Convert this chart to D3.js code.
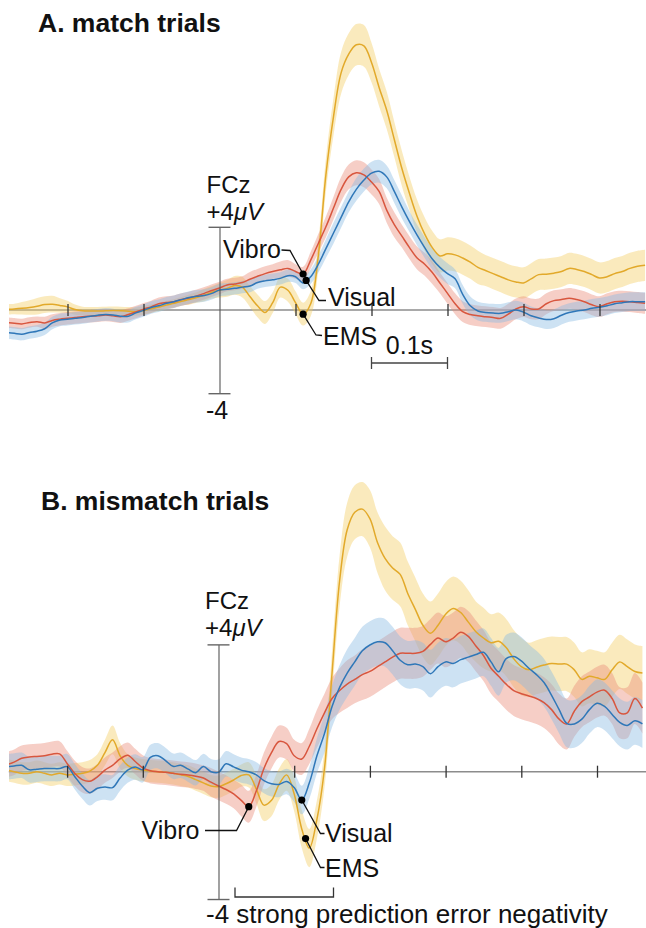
<!DOCTYPE html>
<html><head><meta charset="utf-8">
<script src="https://cdn.jsdelivr.net/npm/d3@7"></script>
<style>
html,body{margin:0;padding:0;background:#fff;}
svg{display:block;font-family:"Liberation Sans",Arial,Helvetica,sans-serif;}
</style></head><body>
<svg id="chart" width="646" height="928"></svg>
<script>
// ---- sampling grid (ms relative to event) ----
const times = [-280,-270,-260,-250,-240,-230,-220,-210,-200,-190,
 -180,-170,-160,-150,-140,-130,-120,-110,-100,-90,
 -80,-70,-60,-50,-40,-30,-20,-10,0,10,
 20,30,40,50,60,70,80,90,100,110,
 120,130,140,150,160,170,180,190,200,210,
 220,230,240,250,260,270,280,290,300,310,
 320,330,340,350,360,370,380,390,400,410,
 420,430,440,450,460,470,480,490,500,510,
 520,530,540,550,560];
const tickTimes = [-200,-100,100,200,300,400,500];
const seriesNames = ["EMS","Vibro","Visual"];

// ---- A. match trials (µV) ----
const matchVibro = [-0.6,-0.64,-0.67,-0.6,-0.56,-0.62,-0.5,-0.44,-0.4,-0.36,
 -0.32,-0.3,-0.28,-0.24,-0.28,-0.32,-0.22,-0.1,0.04,0.15,
 0.3,0.36,0.4,0.5,0.58,0.68,0.8,0.94,1.06,1.2,
 1.25,1.32,1.48,1.62,1.75,1.85,1.93,2.0,1.85,1.73,
 2.4,3.2,4.0,4.9,5.8,6.4,6.6,6.5,6.15,5.7,
 4.8,4.1,3.55,3.0,2.5,2.2,1.8,1.3,0.8,0.3,
 -0.08,-0.22,-0.28,-0.32,-0.36,-0.4,-0.2,0.05,0.16,0.05,
 0.05,0.3,0.45,0.5,0.56,0.5,0.4,0.25,0.16,0.3,
 0.4,0.42,0.4,0.36,0.32];
const matchVibroSE = [.25,.25,.25,.25,.25,.3,.3,.3,.3,.3,
 .3,.3,.3,.3,.3,.3,.3,.3,.3,.3,
 .3,.3,.3,.3,.3,.3,.3,.3,.3,.3,
 .3,.3,.35,.35,.35,.35,.4,.4,.35,.35,
 .4,.45,.5,.55,.6,.6,.6,.6,.6,.6,
 .6,.6,.55,.55,.55,.55,.55,.5,.5,.5,
 .5,.5,.5,.5,.5,.5,.5,.5,.5,.5,
 .5,.5,.5,.5,.5,.5,.5,.5,.5,.5,
 .5,.5,.5,.5,.5];
const matchVisual = [-1.08,-1.12,-1.16,-1.08,-1.02,-0.9,-0.62,-0.48,-0.45,-0.4,
 -0.36,-0.3,-0.25,-0.22,-0.24,-0.3,-0.3,-0.14,-0.02,0.12,
 0.2,0.32,0.4,0.5,0.6,0.66,0.7,0.8,0.96,1.0,
 1.04,1.1,1.15,1.32,1.4,1.45,1.52,1.65,1.6,1.3,
 1.6,2.2,2.95,3.7,4.45,5.2,5.8,6.25,6.58,6.67,
 6.4,5.7,4.95,4.25,3.6,3.0,2.45,2.05,1.75,1.5,
 0.75,0.2,-0.05,-0.12,-0.15,-0.16,-0.08,0.0,-0.1,-0.28,
 -0.38,-0.46,-0.42,-0.25,-0.12,-0.05,0.0,0.08,0.13,0.2,
 0.3,0.35,0.4,0.4,0.4];
const matchVisualSE = [.3,.3,.3,.3,.3,.3,.3,.3,.3,.3,
 .3,.3,.3,.3,.3,.3,.3,.3,.3,.3,
 .3,.3,.3,.3,.3,.3,.3,.3,.3,.3,
 .3,.3,.3,.3,.3,.3,.3,.3,.3,.3,
 .35,.4,.45,.5,.5,.5,.55,.55,.55,.55,
 .55,.55,.55,.5,.5,.5,.5,.5,.5,.45,
 .45,.45,.45,.45,.45,.45,.45,.45,.45,.45,
 .45,.45,.45,.45,.45,.45,.45,.45,.45,.45,
 .45,.45,.45,.45,.45];
const matchEMS = [0.03,0.05,0.08,0.12,0.18,0.26,0.28,0.22,0.15,0.02,
 -0.04,-0.05,-0.05,-0.04,-0.03,-0.04,-0.06,-0.08,-0.02,0.06,
 0.14,0.24,0.32,0.42,0.5,0.6,0.72,0.85,0.95,1.04,
 1.18,1.1,0.65,0.2,-0.12,0.35,1.1,0.95,0.35,-0.2,
 0.3,2.6,6.5,9.3,11.4,12.3,12.75,12.7,11.9,10.7,
 9.6,8.2,6.8,5.6,4.5,3.65,3.0,2.6,2.7,2.65,
 2.5,2.3,2.05,1.9,1.75,1.6,1.45,1.35,1.3,1.5,
 1.7,1.72,1.77,1.85,2.0,1.95,1.85,1.7,1.54,1.6,
 1.75,1.85,2.0,2.1,2.15];
const matchEMSSE = [.25,.25,.3,.35,.4,.4,.4,.35,.3,.25,
 .2,.2,.2,.2,.2,.2,.2,.2,.2,.2,
 .2,.2,.2,.2,.25,.25,.3,.3,.35,.4,
 .45,.5,.5,.55,.55,.5,.5,.55,.55,.55,
 .6,.7,.8,.9,1.0,1.0,1.0,1.0,.95,.9,
 .9,.85,.85,.8,.8,.8,.8,.8,.8,.8,
 .8,.8,.8,.75,.75,.75,.75,.75,.75,.75,
 .75,.75,.75,.75,.75,.75,.75,.75,.75,.75,
 .75,.75,.75,.75,.75];

// ---- B. mismatch trials (µV) ----
const mismatchVibro = [0.22,0.3,0.42,0.46,0.48,0.5,0.55,0.56,0.26,-0.05,
 -0.25,-0.3,-0.16,0.05,0.2,0.4,0.52,0.32,0.12,0.03,
 0.0,-0.02,-0.05,-0.08,-0.1,-0.14,-0.2,-0.33,-0.45,-0.56,
 -0.7,-0.9,-1.1,-0.6,0.1,0.6,0.95,0.88,0.5,0.4,
 0.8,1.35,1.85,2.3,2.55,2.75,2.9,3.05,3.15,3.3,
 3.45,3.6,3.72,3.72,3.72,3.78,4.0,4.2,4.08,4.2,
 4.38,4.25,3.95,3.65,3.25,3.0,2.75,2.55,2.45,2.38,
 2.3,2.17,1.95,1.65,1.5,1.9,2.2,2.35,2.5,2.56,
 2.3,1.85,1.85,2.3,2.0];
const mismatchVibroSE = [.4,.4,.4,.4,.4,.4,.4,.4,.4,.4,
 .4,.4,.4,.4,.4,.4,.4,.4,.4,.4,
 .4,.4,.4,.4,.4,.4,.4,.45,.45,.45,
 .45,.5,.5,.5,.5,.5,.5,.5,.5,.5,
 .55,.6,.6,.65,.7,.75,.75,.8,.8,.8,
 .8,.8,.8,.8,.8,.8,.8,.8,.8,.8,
 .8,.8,.8,.8,.8,.8,.8,.8,.8,.8,
 .8,.8,.8,.8,.8,.8,.8,.8,.8,.8,
 .8,.8,.8,.8,.8];
const mismatchVisual = [0.15,0.18,0.2,0.06,0.08,0.1,0.1,0.1,0.16,-0.15,
 -0.45,-0.66,-0.52,-0.48,-0.5,-0.2,0.05,0.15,0.06,0.45,
 0.5,0.35,0.17,0.2,0.08,-0.03,0.16,0.0,-0.02,0.25,
 0.15,0.05,0.0,-0.1,-0.28,-0.38,-0.4,-0.31,-0.5,-0.89,
 -0.35,0.5,1.2,2.05,2.65,3.1,3.45,3.8,3.98,4.08,
 4.05,3.8,3.5,3.36,3.38,3.3,3.08,3.3,3.45,3.4,
 3.52,3.6,3.68,3.75,3.45,3.14,3.55,3.62,3.48,3.25,
 3.05,2.8,2.4,1.95,1.52,1.5,1.65,1.95,2.15,2.05,
 1.8,1.55,1.45,1.6,1.5];
const mismatchVisualSE = [.4,.4,.4,.4,.4,.4,.4,.4,.4,.4,
 .4,.4,.4,.4,.4,.4,.4,.4,.4,.4,
 .4,.4,.4,.4,.4,.4,.4,.4,.4,.4,
 .4,.4,.4,.4,.4,.4,.4,.4,.45,.45,
 .5,.55,.6,.65,.7,.75,.75,.75,.75,.75,
 .75,.75,.75,.75,.75,.75,.75,.75,.75,.75,
 .75,.75,.75,.75,.75,.75,.75,.75,.75,.75,
 .75,.75,.75,.75,.75,.75,.75,.75,.75,.75,
 .75,.75,.75,.75,.75];
const mismatchEMS = [0.05,0.0,-0.05,-0.05,0.0,-0.05,-0.1,-0.05,-0.1,-0.08,
 -0.05,0.02,0.2,0.6,1.0,0.5,0.2,0.1,0.05,0.02,
 0.0,-0.02,-0.05,-0.1,-0.15,-0.25,-0.35,-0.45,-0.47,-0.38,
 -0.26,-0.12,-0.1,-0.55,-1.05,-0.9,-0.4,-0.1,-0.7,-1.8,
 -2.4,-1.5,0.1,3.1,6.0,7.6,8.15,8.25,7.95,7.2,
 6.7,6.4,6.2,5.6,5.1,4.6,4.35,4.6,4.95,5.13,
 5.0,4.7,4.4,4.2,4.05,4.1,3.9,3.55,3.3,3.2,
 3.28,3.35,3.4,3.38,3.38,3.2,2.9,3.0,2.95,2.9,
 3.2,3.45,3.3,3.15,3.1];
const mismatchEMSSE = [.35,.35,.35,.35,.35,.35,.35,.35,.35,.35,
 .35,.35,.35,.4,.45,.4,.35,.35,.35,.35,
 .35,.35,.35,.35,.35,.35,.35,.35,.35,.35,
 .35,.35,.4,.45,.5,.5,.5,.5,.55,.6,
 .6,.6,.6,.7,.8,.85,.85,.85,.9,.95,
 1.0,1.0,1.0,1.0,1.0,1.0,1.0,1.0,1.0,1.0,
 1.0,1.0,.95,.95,.9,.9,.9,.9,.9,.85,
 .85,.85,.85,.85,.85,.85,.85,.85,.85,.85,
 .85,.85,.85,.85,.85];

// ---- styling ----
const lineColor = {EMS:"#e2a92a", Vibro:"#d8563e", Visual:"#2f77b8"};
const bandColor = {EMS:"#f3cc62", Vibro:"#e98a76", Visual:"#88b9e2"};

const svg = d3.select("#chart");

function drawPanel(cfg){
  const x = d3.scaleLinear().domain([0,500]).range([cfg.x0, cfg.x0 + 500*cfg.pxPerMs]);
  const y = d3.scaleLinear().domain([-4,4]).range([cfg.y0 + 4*cfg.pxPerUV, cfg.y0 - 4*cfg.pxPerUV]);
  const g = svg.append("g");
  const clipId = "clip" + cfg.id;
  svg.append("clipPath").attr("id", clipId).append("rect")
    .attr("x", 9).attr("y", cfg.clipTop).attr("width", 637).attr("height", cfg.clipH);

  const series = {
    EMS: times.map((t,i)=>({t, v:cfg.ems[i], se:cfg.emsSE[i]})),
    Vibro: times.map((t,i)=>({t, v:cfg.vibro[i], se:cfg.vibroSE[i]})),
    Visual: times.map((t,i)=>({t, v:cfg.visual[i], se:cfg.visualSE[i]}))
  };
  const curve = d3.curveCatmullRom.alpha(0.5);
  const area = d3.area().x(d=>x(d.t)).y0(d=>y(d.v-d.se)).y1(d=>y(d.v+d.se)).curve(curve);
  const line = d3.line().x(d=>x(d.t)).y(d=>y(d.v)).curve(curve);

  // horizontal axis line (behind data)
  g.append("line").attr("x1", x(-277)).attr("x2", x(565))
    .attr("y1", y(0)).attr("y2", y(0)).attr("stroke", "#8c8c8c").attr("stroke-width", 1.6);

  const dg = g.append("g").attr("clip-path", `url(#${clipId})`);
  seriesNames.forEach(n=>{
    dg.append("path").datum(series[n]).attr("d", area)
      .attr("fill", bandColor[n]).attr("fill-opacity", 0.42).attr("stroke","none");
  });
  seriesNames.forEach(n=>{
    dg.append("path").datum(series[n]).attr("d", line)
      .attr("fill","none").attr("stroke", lineColor[n]).attr("stroke-width", 1.5);
  });

  // tick marks crossing the axis
  const ax = g.append("g").attr("transform", `translate(0,${y(0)-6})`)
    .call(d3.axisBottom(x).tickValues(tickTimes).tickSize(12).tickFormat(""));
  ax.select(".domain").remove();
  ax.selectAll(".tick line").attr("stroke", "#333").attr("stroke-width", 1.3);

  // vertical axis with caps at +4 / -4
  const vy = g.append("g").attr("transform", `translate(${x(0)},0)`)
    .call(d3.axisLeft(y).tickValues([-4,4]).tickSize(0).tickFormat(""));
  vy.select(".domain").attr("stroke", "#555").attr("stroke-width", 1.1);
  vy.selectAll(".tick line").attr("x1", -11).attr("x2", 11).attr("stroke", "#666").attr("stroke-width", 1.4);

  // axis labels
  const tx = g.append("g").attr("font-size", 24).attr("fill", "#111");
  tx.append("text").attr("x", cfg.labX).attr("y", cfg.fczY).text("FCz");
  const p4 = tx.append("text").attr("x", cfg.labX).attr("y", cfg.fczY + 27);
  p4.append("tspan").text("+4");
  p4.append("tspan").attr("font-style", "italic").text("\u03bcV");

  // annotation dots & leaders
  function valueAt(name, t){
    const arr = series[name];
    const i = d3.bisector(d=>d.t).left(arr, t);
    if (arr[i].t === t) return arr[i].v;
    const a = arr[i-1], b = arr[i];
    return a.v + (b.v - a.v) * (t - a.t) / (b.t - a.t);
  }
  cfg.labels.forEach(L=>{
    const px = x(L.t), py = y(valueAt(L.series, L.t));
    const pts = [[px,py]].concat(L.path);
    g.append("path").attr("d", d3.line()(pts))
      .attr("fill","none").attr("stroke","#111").attr("stroke-width",1.3);
    g.append("circle").attr("cx", px).attr("cy", py).attr("r", 3.6).attr("fill","#000");
    g.append("text").attr("x", L.tx).attr("y", L.ty).attr("font-size", 25).attr("fill","#111").text(L.series);
  });
  return {x, y, g};
}

// Panel A
svg.append("text").attr("x", 38).attr("y", 31.5).attr("font-size", 26.5).attr("font-weight", "bold")
  .attr("fill", "#111").text("A. match trials");
const A = drawPanel({
  id:"A", x0:219.5, pxPerMs:0.76, y0:310, pxPerUV:20.8, clipTop:0, clipH:440,
  ems:matchEMS, emsSE:matchEMSSE, vibro:matchVibro, vibroSE:matchVibroSE,
  visual:matchVisual, visualSE:matchVisualSE,
  labX:206.5, fczY:192.5,
  labels:[
    {series:"Vibro", t:110, path:[[290,250.5],[281.5,250]], tx:223, ty:257.5},
    {series:"Visual", t:114, path:[[319,300.5],[326,300.5]], tx:328, ty:306},
    {series:"EMS", t:110, path:[[316,335],[322,335.5]], tx:323, ty:345}
  ]
});
A.g.append("text").attr("x", 206).attr("y", 418.5).attr("font-size", 25).attr("fill","#111").text("-4");
// 0.1 s scale bar
const sb = A.g.append("g").attr("stroke", "#444").attr("stroke-width", 1.3);
sb.append("line").attr("x1", A.x(200)).attr("x2", A.x(300)).attr("y1", 363).attr("y2", 363);
sb.append("line").attr("x1", A.x(200)).attr("x2", A.x(200)).attr("y1", 357).attr("y2", 369);
sb.append("line").attr("x1", A.x(300)).attr("x2", A.x(300)).attr("y1", 357).attr("y2", 369);
A.g.append("text").attr("x", (A.x(200)+A.x(300))/2).attr("y", 354).attr("text-anchor","middle")
  .attr("font-size", 25).attr("fill","#111").text("0.1s");

// Panel B
svg.append("text").attr("x", 41).attr("y", 510).attr("font-size", 26.5).attr("font-weight", "bold")
  .attr("fill", "#111").text("B. mismatch trials");
const B = drawPanel({
  id:"B", x0:218.5, pxPerMs:0.757, y0:771.7, pxPerUV:31.83, clipTop:470, clipH:458,
  ems:mismatchEMS, emsSE:mismatchEMSSE, vibro:mismatchVibro, vibroSE:mismatchVibroSE,
  visual:mismatchVisual, visualSE:mismatchVisualSE,
  labX:205, fczY:609,
  labels:[
    {series:"Vibro", t:40, path:[[236.5,830.5],[205,830.5]], tx:141.5, ty:838.5},
    {series:"Visual", t:110, path:[[320.5,833.5],[324.5,833.5]], tx:325, ty:841.5},
    {series:"EMS", t:115, path:[[320.5,867.5],[324.5,867.5]], tx:325, ty:876.5}
  ]
});
// bracket
B.g.append("path").attr("d", d3.line()([[235,887.5],[235,897],[333.5,897],[333.5,887.5]]))
  .attr("fill","none").attr("stroke","#333").attr("stroke-width",1.3);
B.g.append("text").attr("x", 206).attr("y", 922.5).attr("font-size", 26).attr("fill","#111")
  .text("-4 strong prediction error negativity");
</script>
</body></html>
